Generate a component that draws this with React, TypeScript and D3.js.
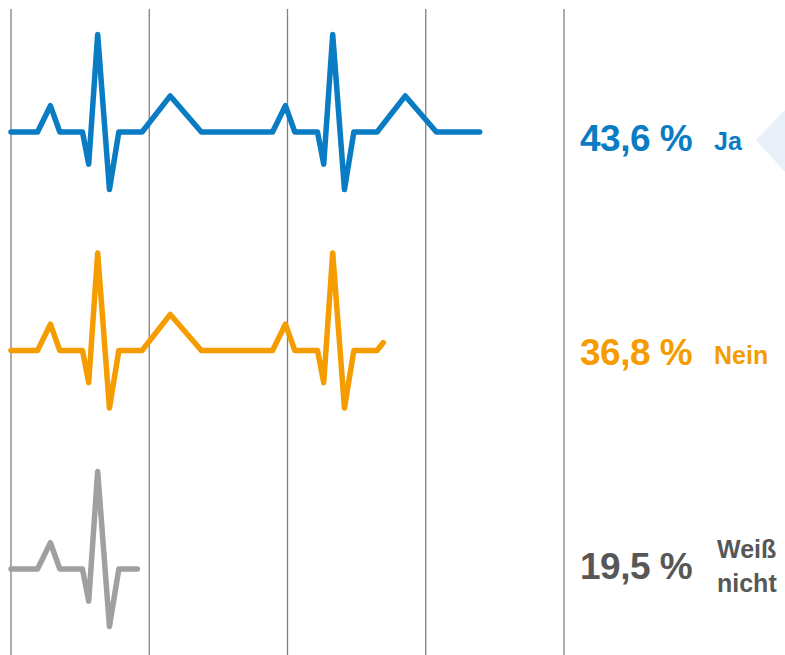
import React from 'react';
import * as d3 from 'd3';

// answers and their shares
const categories = ['Ja', 'Nein', 'Weiß nicht'];
const shares = ['43,6 %', '36,8 %', '19,5 %'];
// how far each heartbeat trace runs (time units, grid every 10)
const traceEnds = [33.9, 26.93, 9.14];
// one heartbeat: time offsets and signal levels (P, Q, R, S, T waves)
const beatTimes = [0, 0.93, 1.61, 3.25, 3.7, 4.35, 5.2, 5.88, 7.56, 9.6, 11.85];
const beatLevels = [0, 0.27, 0, 0, -0.33, 1, -0.59, 0, 0, 0.37, 0];
const beatStarts = [1.92, 18.92, 35.92];
const gridTicks = [0, 10, 20, 30, 40];

const lineColors = ['#0a7cc3', '#f59c00', '#a0a0a0'];
const textColors = ['#0a7cc3', '#f59c00', '#575757'];

const W = 785;
const H = 655;

type Pt = [number, number];

function tracePoints(end: number): Pt[] {
  const all: Pt[] = [[0, 0]];
  beatStarts.forEach(s => beatTimes.forEach((t, i) => all.push([s + t, beatLevels[i]])));
  const out: Pt[] = [];
  for (let i = 0; i < all.length; i++) {
    const p = all[i];
    if (p[0] <= end) {
      out.push(p);
    } else {
      const q = all[i - 1];
      const k = (end - q[0]) / (p[0] - q[0]);
      out.push([end, q[1] + k * (p[1] - q[1])]);
      break;
    }
  }
  return out;
}

const App = () => {
  const x = d3.scaleLinear().domain([0, 40]).range([11, 564]);
  const amp = d3.scaleLinear().domain([0, 1]).range([0, -97.5]);
  const row = d3.scalePoint<string>().domain(categories).range([132, 569]);
  const labelRow = d3.scalePoint<string>().domain(categories).range([151, 579]);

  const font = '"Liberation Sans", Arial, sans-serif';

  return (
    <svg width={W} height={H} style={{ position: 'absolute', left: 0, top: 0, background: '#fff' }}>
      {/* pointer shape at right */}
      <polygon points="756,140 785,110 785,172" fill="#e9eff9" />
      {gridTicks.map(t => (
        <line key={t} x1={x(t)} x2={x(t)} y1={9} y2={H} stroke="#808080" strokeWidth={1.3} />
      ))}
      {categories.map((c, i) => {
        const base = row(c) as number;
        const line = d3.line<Pt>()
          .x(d => x(d[0]))
          .y(d => base + amp(d[1]));
        return (
          <path
            key={c}
            d={line(tracePoints(traceEnds[i])) || ''}
            fill="none"
            stroke={lineColors[i]}
            strokeWidth={5.5}
            strokeLinejoin="round"
            strokeLinecap="round"
          />
        );
      })}
      {categories.map((c, i) => {
        const y = labelRow(c) as number;
        const words = c === 'Weiß nicht' ? ['Weiß', 'nicht'] : [c];
        return (
          <g key={c} fontFamily={font} fontWeight="bold" fill={textColors[i]}>
            <text x={580} y={y} fontSize={37} letterSpacing={-0.5}>{shares[i]}</text>
            {words.length === 1 ? (
              <text x={714} y={y - 1} fontSize={25}>{words[0]}</text>
            ) : (
              <>
                <text x={717} y={y - 21} fontSize={25}>{words[0]}</text>
                <text x={717} y={y + 13} fontSize={25}>{words[1]}</text>
              </>
            )}
          </g>
        );
      })}
    </svg>
  );
};

export default App;
